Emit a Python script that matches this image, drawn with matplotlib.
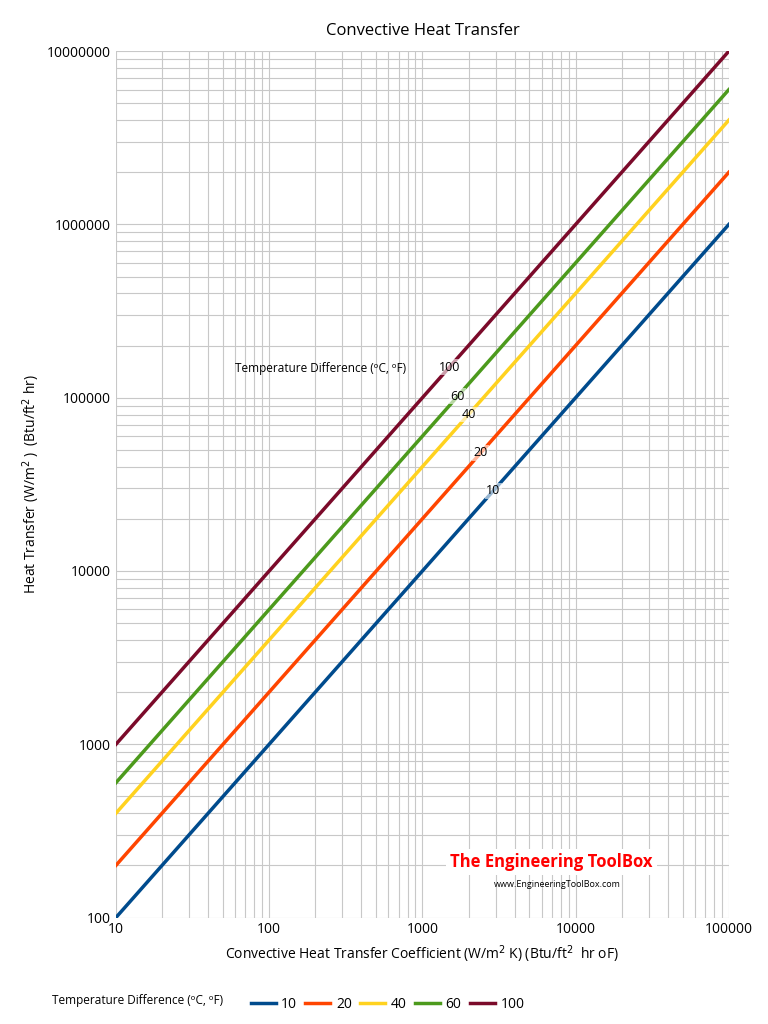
import numpy as np
import matplotlib.pyplot as plt

plt.rcParams['font.family'] = ['Open Sans', 'DejaVu Sans']

# convective heat transfer coefficient range
coef = [10, 100000]
temp_diff = [10, 20, 40, 60, 100]
colors = ['#004b8d', '#ff4500', '#ffd21f', '#4c9a1c', '#7b0a2a']
# where each curve gets its inline label
label_x = [2900, 2400, 2000, 1700, 1500]

fig = plt.figure(figsize=(7.68, 10.24), dpi=100)
ax = fig.add_axes([0.151, 0.104, 0.798, 0.846])

for dt, c, lx in zip(temp_diff, colors, label_x):
    ax.plot(coef, [h * dt for h in coef], color=c, lw=2.5, label=str(dt))
    ax.text(lx, lx * dt, str(dt), fontsize=9, ha='center', va='center',
            bbox=dict(facecolor='white', edgecolor='none', alpha=0.6, pad=1))

ax.set_xscale('log')
ax.set_yscale('log')
ax.set_xlim(10, 100000)
ax.set_ylim(100, 10000000)
ax.set_xticks([10, 100, 1000, 10000, 100000])
ax.set_xticklabels(['10', '100', '1000', '10000', '100000'])
ax.set_yticks([100, 1000, 10000, 100000, 1000000, 10000000])
ax.set_yticklabels(['100', '1000', '10000', '100000', '1000000', '10000000'])
ax.grid(True, which='both', color='#c8c8c8', lw=0.8)
ax.tick_params(which='both', length=0, labelsize=10)
for s in ax.spines.values():
    s.set_visible(False)

ax.set_title('Convective Heat Transfer', fontsize=12, pad=12)
ax.set_xlabel('Convective Heat Transfer Coefficient (W/m$^2$ K) (Btu/ft$^2$  hr oF)', fontsize=10)
ax.set_ylabel('Heat Transfer (W/m$^2$ )  (Btu/ft$^2$ hr)', fontsize=10)

ax.text(0.195, 0.63, 'Temperature Difference (ᵒC, ᵒF)', transform=ax.transAxes, fontsize=8.5)

ax.text(0.545, 0.058, 'The Engineering ToolBox', transform=ax.transAxes, fontsize=12,
        color='red', fontweight='bold', fontstretch='condensed',
        bbox=dict(facecolor='white', edgecolor='none', pad=3))
ax.text(0.72, 0.035, 'www.EngineeringToolBox.com', transform=ax.transAxes, fontsize=6.5, ha='center')

fig.legend(loc='lower left', bbox_to_anchor=(0.31, 0.0), ncol=5, frameon=False,
           fontsize=10, handlelength=1.8, columnspacing=0.6, handletextpad=0.4)
fig.text(0.068, 0.023, 'Temperature Difference (ᵒC, ᵒF)', fontsize=8.5, va='center')

fig.savefig('out.png', dpi=100)
